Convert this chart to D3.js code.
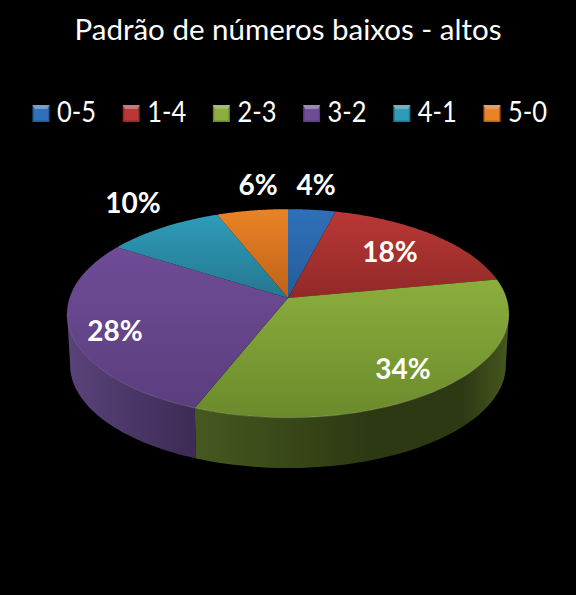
<!DOCTYPE html>
<html>
<head>
<meta charset="utf-8">
<script src="https://cdn.jsdelivr.net/npm/d3@7"></script>
<style>
  html, body { margin: 0; padding: 0; background: #000; }
  svg { display: block; font-family: Lato, "Open Sans", sans-serif; }
</style>
</head>
<body>
<svg id="chart" width="576" height="595"></svg>
<script>
const title = "Padrão de números baixos - altos";
const categories = ["0-5", "1-4", "2-3", "3-2", "4-1", "5-0"];
const values = [4, 18, 34, 28, 10, 6];
const topLight = ["#2f70ba", "#b93836", "#8cae3d", "#6f4c96", "#2e9cb9", "#ea8325"];
const topDark = ["#265c98", "#912927", "#6b8a2c", "#5a3e7e", "#25778f", "#bd6219"];
const sideLight = ["#2a4e7c", "#75231f", "#46581f", "#5a4379", "#1f6478", "#a55515"];
const sideDark = ["#1e3a5c", "#551917", "#2d3913", "#3c2b55", "#164a59", "#7a3f10"];

let svg = d3.select("#chart");
let defs = svg.append("defs");

// pie projected with a bit of perspective, so the near side is bigger
let cx = 288, cy = 298, R = 218.5, A = 102, k = 0.148, depth = 52;
function project(a, lower) {
	let s = lower ? 0.986 : 1;
	let w = 1 + k * Math.cos(a);
	return [cx + s * R * Math.sin(a) / w, cy + (lower ? depth : 0) - s * A * Math.cos(a) / w];
}
function arcAngles(a0, a1) {
	return d3.range(0, 61).map(i => a0 + (a1 - a0) * i / 60);
}
let line = d3.line();
let pie = d3.pie().sort(null)(values);

// the wall is only visible on the near half
let wall0 = Math.acos(-k), wall1 = 2 * Math.PI - wall0;
let walls = pie.map((d, i) => ({i, a0: Math.max(d.startAngle, wall0), a1: Math.min(d.endAngle, wall1)}))
	.filter(d => d.a1 > d.a0);

walls.forEach(d => {
	let g = defs.append("linearGradient")
		.attr("id", "side" + d.i)
		.attr("gradientUnits", "userSpaceOnUse")
		.attr("x1", d.i === 2 ? 196 : 67).attr("x2", d.i === 2 ? 509 : 196)
		.attr("y1", 0).attr("y2", 0);
	if (d.i === 2) {
		g.append("stop").attr("offset", "0%").attr("stop-color", sideLight[2]);
		g.append("stop").attr("offset", "55%").attr("stop-color", sideDark[2]);
		g.append("stop").attr("offset", "85%").attr("stop-color", sideDark[2]);
		g.append("stop").attr("offset", "100%").attr("stop-color", sideLight[2]);
	} else {
		g.append("stop").attr("offset", "0%").attr("stop-color", sideLight[d.i]);
		g.append("stop").attr("offset", "100%").attr("stop-color", sideDark[d.i]);
	}
});

pie.forEach((d, i) => {
	let g = defs.append("linearGradient")
		.attr("id", "top" + i)
		.attr("x1", 0).attr("x2", 0).attr("y1", 0).attr("y2", 1);
	g.append("stop").attr("offset", "0%").attr("stop-color", topLight[i]);
	g.append("stop").attr("offset", "100%").attr("stop-color", topDark[i]);
});

svg.append("g")
	.selectAll("path")
	.data(walls)
	.join("path")
	.attr("fill", d => `url(#side${d.i})`)
	.attr("d", d => {
		let angles = arcAngles(d.a0, d.a1);
		let pts = angles.map(a => project(a, false)).concat(angles.slice().reverse().map(a => project(a, true)));
		return line(pts) + "Z";
	});

svg.append("g")
	.selectAll("path")
	.data(pie)
	.join("path")
	.attr("fill", (d, i) => `url(#top${i})`)
	.attr("d", d => line([[cx, cy]].concat(arcAngles(d.startAngle, d.endAngle).map(a => project(a, false)))) + "Z");

// thin highlight where the top meets the wall
svg.append("g")
	.selectAll("path")
	.data(walls)
	.join("path")
	.attr("fill", "none")
	.attr("stroke", "#fff")
	.attr("stroke-opacity", .18)
	.attr("d", d => line(arcAngles(d.a0, d.a1).map(a => project(a, false))));

// data labels
const labelPos = [[316, 185], [390, 252], [403, 369], [115, 331], [133, 203], [258, 185]];
svg.append("g")
	.selectAll("text")
	.data(values)
	.join("text")
	.attr("x", (d, i) => labelPos[i][0])
	.attr("y", (d, i) => labelPos[i][1])
	.attr("dy", "0.35em")
	.attr("text-anchor", "middle")
	.attr("fill", "#fff")
	.attr("font-weight", 700)
	.attr("font-size", 28)
	.text(d => d + "%");

svg.append("text")
	.attr("x", 288)
	.attr("y", 40)
	.attr("text-anchor", "middle")
	.attr("fill", "#fff")
	.attr("font-size", 29.5)
	.text(title);

// legend
let legendX = d3.scalePoint(categories, [32.5, 483.5]);
let legend = svg.append("g")
	.selectAll("g")
	.data(categories)
	.join("g")
	.attr("transform", d => `translate(${legendX(d)},105)`);
legend.append("rect")
	.attr("width", 17).attr("height", 17)
	.attr("fill", (d, i) => topDark[i]);
legend.append("rect")
	.attr("x", 1.5).attr("y", 4).attr("width", 14).attr("height", 11.5)
	.attr("fill", (d, i) => topLight[i]);
legend.append("path")
	.attr("d", "M0,0H17L15,4H2Z")
	.attr("fill", "#fff")
	.attr("fill-opacity", .4);
legend.append("text")
	.attr("x", 24.5)
	.attr("y", 17)
	.attr("fill", "#fff")
	.attr("font-size", 28)
	.attr("textLength", 39)
	.attr("lengthAdjust", "spacingAndGlyphs")
	.text(d => d);
</script>
</body>
</html>
